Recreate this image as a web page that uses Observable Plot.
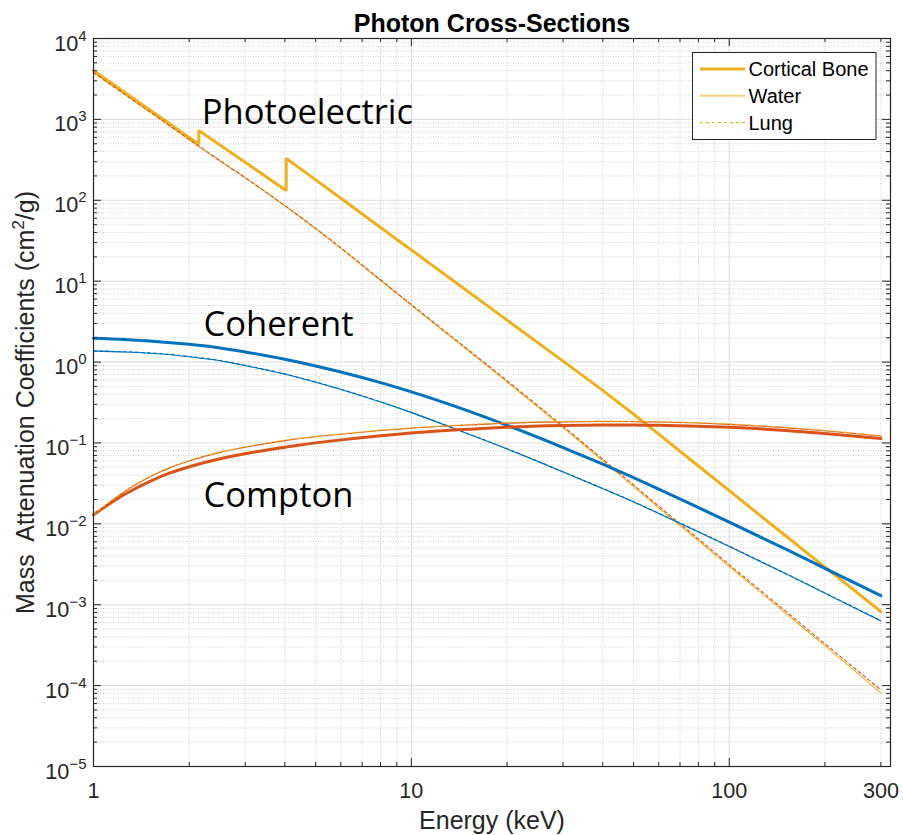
<!DOCTYPE html>
<html>
<head>
<meta charset="utf-8">
<script src="https://cdn.jsdelivr.net/npm/d3@7"></script>
<script src="https://cdn.jsdelivr.net/npm/@observablehq/plot@0.6"></script>
<style>
  body { margin: 0; background: #fff; }
  #chart { width: 903px; height: 835px; }
</style>
</head>
<body>
<div id="chart"></div>
<script>
// Photon energies (keV) shared by the smooth curves
const energy = [1, 1.25, 1.5, 1.75, 2, 2.5, 3, 4, 5, 6, 8, 10, 15, 20, 30, 40, 50, 60, 80, 100, 150, 200, 300];
// Cortical bone photoelectric curve includes the P (2.145 keV) and Ca (4.038 keV) K-edges
const photoBoneEnergy = [1, 1.5, 2, 2.145, 2.145, 3, 4, 4.038, 4.038, 5, 6, 8, 10, 15, 20, 30, 40, 50, 60, 80, 100, 150, 200, 300];

// Mass attenuation coefficients (cm^2/g)
const photoBone  = [4020, 1320, 597, 492, 730, 295, 135, 132, 329, 178.6, 105.7, 46.1, 24.3, 7.55, 3.30, 1.026, 0.447, 0.226, 0.1285, 0.0519, 0.0257, 0.00718, 0.00292, 0.000824];
const photoWater = [3800, 2056, 1247, 817, 565, 308, 190.5, 85.7, 44.4, 25.4, 10.2, 5.04, 1.41, 0.568, 0.155, 0.0603, 0.0288, 0.0158, 0.00617, 0.00297, 0.000793, 0.000310, 0.0000813];
const photoLung  = [3800, 2056, 1247, 817, 565, 308, 190.5, 85.7, 45.0, 25.8, 10.4, 5.13, 1.45, 0.588, 0.161, 0.0630, 0.0302, 0.0166, 0.00650, 0.00313, 0.000838, 0.000329, 0.0000885];

const cohBone  = [1.972, 1.901, 1.820, 1.738, 1.656, 1.496, 1.334, 1.084, 0.895, 0.753, 0.556, 0.428, 0.251, 0.165, 0.0877, 0.0546, 0.0372, 0.0269, 0.0159, 0.01052, 0.00489, 0.00282, 0.001294];
const cohWater = [1.365, 1.330, 1.285, 1.230, 1.161, 1.038, 0.902, 0.708, 0.562, 0.457, 0.320, 0.237, 0.130, 0.0841, 0.0437, 0.0272, 0.0186, 0.0134, 0.00794, 0.00525, 0.00243, 0.00139, 0.000631];
const cohLung  = [1.378, 1.343, 1.298, 1.242, 1.173, 1.048, 0.911, 0.715, 0.568, 0.462, 0.323, 0.239, 0.131, 0.0849, 0.0441, 0.0275, 0.0188, 0.0135, 0.00802, 0.00530, 0.00245, 0.00140, 0.000637];

const comptonBone  = [0.01294, 0.02301, 0.03334, 0.04285, 0.05082, 0.06383, 0.07362, 0.08872, 0.1002, 0.1091, 0.1227, 0.1324, 0.1472, 0.1567, 0.1641, 0.1667, 0.1671, 0.1656, 0.1614, 0.1563, 0.1429, 0.1312, 0.1135];
const comptonWater = [0.01294, 0.02495, 0.03784, 0.04989, 0.05998, 0.07638, 0.08851, 0.1067, 0.1194, 0.1282, 0.1422, 0.1521, 0.1667, 0.1758, 0.1824, 0.1841, 0.1837, 0.1816, 0.1762, 0.1698, 0.1545, 0.1413, 0.1216];
const comptonLung  = [0.01300, 0.0252, 0.0382, 0.0504, 0.0606, 0.0771, 0.0894, 0.1078, 0.1206, 0.1295, 0.1436, 0.1536, 0.1684, 0.1776, 0.1842, 0.1859, 0.1855, 0.1834, 0.1780, 0.1715, 0.1560, 0.1427, 0.1228];

// Axis ticks
const xLabelTicks = [1, 10, 100, 300];
const xMajor = [10, 100];
const xMinor = [2, 3, 4, 5, 6, 7, 8, 9, 20, 30, 40, 50, 60, 70, 80, 90, 200, 300];
const yExponents = [-5, -4, -3, -2, -1, 0, 1, 2, 3, 4];

// Process labels placed next to each family of curves
const processLabels = ["Photoelectric", "Coherent", "Compton"];
const processLabelE = [2.19, 2.22, 2.22];
const processLabelMu = [865, 2.07, 0.0161];

const legendNames = ["Cortical Bone", "Water", "Lung"];
const yTitle = "Mass\u00A0 Attenuation Coefficients (cm2/g)";

const blue = "#0072BD", orange = "#D95319", yellow = "#EDB120";
const axisColor = "#262626";

const yMajor = yExponents.map(e => Math.pow(10, e));
const yMinor = yExponents.slice(0, -1).flatMap(e => [2,3,4,5,6,7,8,9].map(m => m * Math.pow(10, e)));

const rows = (xs, ys) => xs.map((x, i) => ({E: x, mu: ys[i]}));

const W = 903, H = 835;
const mL = 93, mR = 13, mT = 38, mB = 69;
const innerW = W - mL - mR, innerH = H - mT - mB;

const thick = 3, thin = 1.1;
const smooth = {x: "E", y: "mu", curve: "monotone-x"};

const svg = Plot.plot({
  width: W,
  height: H,
  marginLeft: mL,
  marginRight: mR,
  marginTop: mT,
  marginBottom: mB,
  style: {fontFamily: "'Liberation Sans', Arial, Helvetica, sans-serif", background: "#fff", color: axisColor},
  x: {type: "log", domain: [1, 321.6]},
  y: {type: "log", domain: [1e-5, 1e4]},
  marks: [
    // grid
    Plot.ruleX(xMinor, {x: d => d, stroke: "#c4c4c4", strokeWidth: 0.8, strokeDasharray: "1,1.5"}),
    Plot.ruleY(yMinor, {y: d => d, stroke: "#c4c4c4", strokeWidth: 0.8, strokeDasharray: "1,1.5"}),
    Plot.ruleX(xMajor, {x: d => d, stroke: "#dcdcdc", strokeWidth: 1}),
    Plot.ruleY(yMajor.slice(1, -1), {y: d => d, stroke: "#dcdcdc", strokeWidth: 1}),

    // photoelectric
    Plot.line(rows(photoBoneEnergy, photoBone), {x: "E", y: "mu", stroke: yellow, strokeWidth: thick, strokeLinejoin: "miter"}),
    Plot.line(rows(energy, photoWater), {...smooth, stroke: yellow, strokeWidth: thin}),
    Plot.line(rows(energy, photoLung), {...smooth, stroke: orange, strokeWidth: thin, strokeDasharray: "3,3"}),
    // coherent
    Plot.line(rows(energy, cohBone), {...smooth, stroke: blue, strokeWidth: thick}),
    Plot.line(rows(energy, cohWater), {...smooth, stroke: blue, strokeWidth: thin}),
    Plot.line(rows(energy, cohLung), {...smooth, stroke: blue, strokeWidth: thin, strokeDasharray: "3,3"}),
    // compton
    Plot.line(rows(energy, comptonBone), {...smooth, stroke: orange, strokeWidth: thick}),
    Plot.line(rows(energy, comptonWater), {...smooth, stroke: orange, strokeWidth: thin}),
    Plot.line(rows(energy, comptonLung), {...smooth, stroke: yellow, strokeWidth: thin, strokeDasharray: "3,3"}),

    // process labels
    Plot.text(processLabels, {
      x: (d, i) => processLabelE[i], y: (d, i) => processLabelMu[i], text: d => d,
      textAnchor: "start", lineAnchor: "bottom", fontSize: 34.5,
      fontFamily: "'Open Sans', 'Noto Sans', sans-serif", fill: "#000"
    }),

    // inward ticks, bottom / top
    Plot.tickX(xMajor, {x: d => d, insetTop: innerH - 8, stroke: axisColor}),
    Plot.tickX(xMinor, {x: d => d, insetTop: innerH - 4, stroke: axisColor}),
    Plot.tickX(xMajor, {x: d => d, insetBottom: innerH - 8, stroke: axisColor}),
    Plot.tickX(xMinor, {x: d => d, insetBottom: innerH - 4, stroke: axisColor}),
    // inward ticks, left / right
    Plot.tickY(yMajor, {y: d => d, insetRight: innerW - 8, stroke: axisColor}),
    Plot.tickY(yMinor, {y: d => d, insetRight: innerW - 4, stroke: axisColor}),
    Plot.tickY(yMajor, {y: d => d, insetLeft: innerW - 8, stroke: axisColor}),
    Plot.tickY(yMinor, {y: d => d, insetLeft: innerW - 4, stroke: axisColor}),

    Plot.frame({stroke: axisColor, strokeWidth: 1.2}),

    // tick labels
    Plot.axisX(xLabelTicks, {tickSize: 0, tickPadding: 16, fontSize: 21.6, tickFormat: d => String(d), label: null, fill: axisColor}),
    Plot.axisY(yMajor, {tickSize: 0, tickPadding: 7, fontSize: 21.6, tickFormat: d => String(Math.round(Math.log10(d))), label: null, fill: axisColor}),

    // title and axis titles
    Plot.text(["Photon Cross-Sections"], {frameAnchor: "top", dy: -7, lineAnchor: "bottom", fontSize: 25, fontWeight: "bold", fill: "#000"}),
    Plot.text(["Energy (keV)"], {frameAnchor: "bottom", dy: 62, lineAnchor: "bottom", fontSize: 25, fill: axisColor}),
    Plot.text([yTitle], {frameAnchor: "left", dx: -60, rotate: -90, textAnchor: "middle", lineAnchor: "bottom", fontSize: 25, fill: axisColor})
  ]
});

// y tick labels as powers of ten
d3.select(svg).selectAll('g[aria-label="y-axis tick label"] text').each(function () {
  const exp = this.textContent.replace("-", "\u2212");
  const t = d3.select(this);
  t.text(null).attr("y", 12);
  t.append("tspan").text("10");
  t.append("tspan").attr("dy", -10).attr("font-size", 15).text(exp);
});

// superscript in the y title
d3.select(svg).selectAll("text").filter(function () { return this.textContent === yTitle; }).each(function () {
  const t = d3.select(this);
  const [head, tail] = yTitle.split("cm2");
  t.text(null);
  t.append("tspan").text(head + "cm");
  t.append("tspan").attr("dy", -10).attr("font-size", 17).text("2");
  t.append("tspan").attr("dy", 10).text(tail);
});

// legend box
const lg = d3.select(svg).append("g").attr("aria-label", "legend");
lg.append("rect").attr("x", 692.5).attr("y", 52.5).attr("width", 183.5).attr("height", 87)
  .attr("fill", "#fff").attr("stroke", axisColor).attr("stroke-width", 1);
const legendStyles = [
  {w: 3, dash: null, opacity: 1},
  {w: 2, dash: null, opacity: 0.6},
  {w: 1.2, dash: "3,3", opacity: 1}
];
legendNames.forEach((name, i) => {
  const y = 69 + 26.8 * i;
  const s = legendStyles[i];
  lg.append("line").attr("x1", 700).attr("x2", 745).attr("y1", y).attr("y2", y)
    .attr("stroke", yellow).attr("stroke-width", s.w).attr("stroke-opacity", s.opacity)
    .attr("stroke-dasharray", s.dash);
  lg.append("text").attr("x", 748.5).attr("y", y + 7).attr("font-size", 20).attr("fill", "#000")
    .attr("text-anchor", "start")
    .attr("font-family", "'Liberation Sans', Arial, sans-serif").text(name);
});

document.getElementById("chart").appendChild(svg);
</script>
</body>
</html>
